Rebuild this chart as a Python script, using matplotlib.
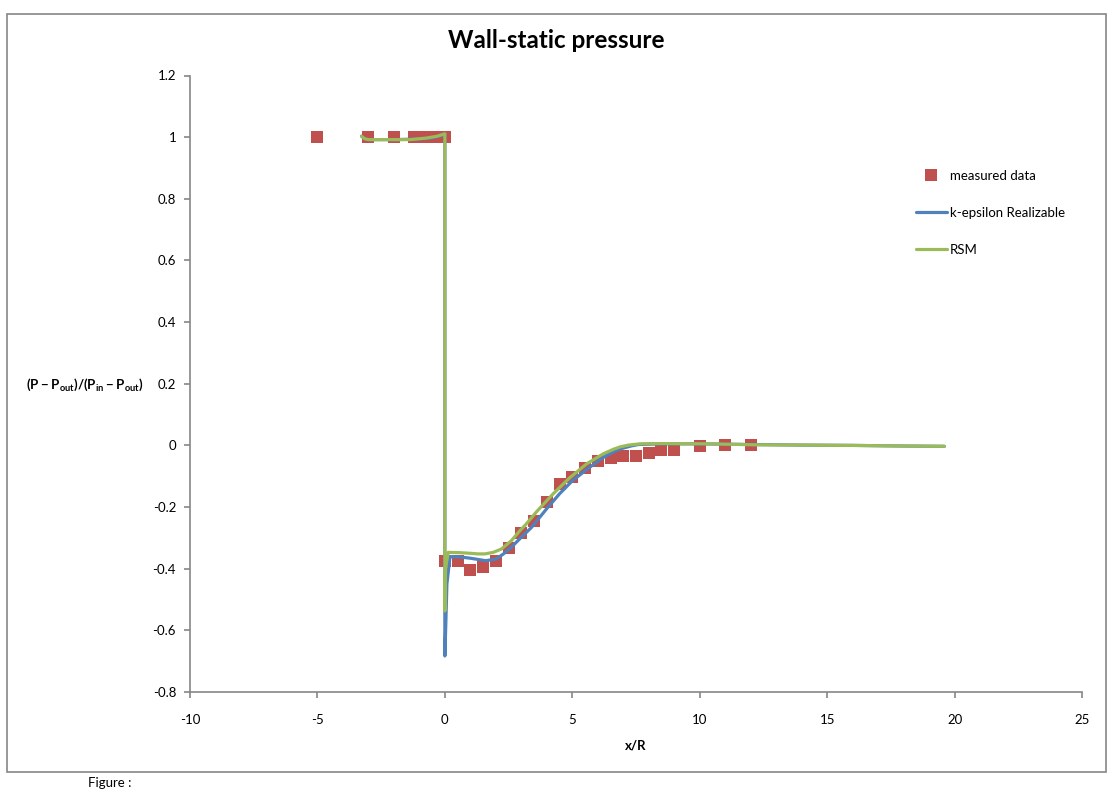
import matplotlib
matplotlib.use("Agg")
import matplotlib.pyplot as plt
from matplotlib.patches import Rectangle
from matplotlib.ticker import FuncFormatter

# measured wall-static pressure
meas_x = [-5, -3, -2, -1.2, -0.9, -0.6, -0.3, 0, 0, 0.5, 1, 1.5, 2, 2.5, 3, 3.5, 4,
          4.5, 5, 5.5, 6, 6.5, 7, 7.5, 8, 8.5, 9, 10, 11, 12]
meas_y = [1, 1, 1, 1, 1, 1, 1, 1, -0.374, -0.374, -0.403, -0.393, -0.374, -0.334,
          -0.284, -0.244, -0.182, -0.125, -0.103, -0.073, -0.052, -0.041, -0.033,
          -0.033, -0.024, -0.014, -0.014, -0.002, 0.0, 0.0]

# k-epsilon Realizable
ke_x = [-3.27, -3.15, -3.0, -2.0, -1.0, -0.5, -0.2, 0.0, 0.0, 0.03, 0.08, 0.2, 0.6,
        1.0, 1.6, 2.0, 2.3, 2.6, 3.0, 3.4, 4.0, 4.5, 5.0, 5.6, 6.2, 6.6, 6.9, 7.3,
        7.6, 8.5, 10, 12, 14, 16, 18, 19.6]
ke_y = [1.003, 0.995, 0.992, 0.992, 0.994, 0.998, 1.004, 1.01, -0.683, -0.6, -0.45,
        -0.361, -0.362, -0.366, -0.374, -0.369, -0.352, -0.331, -0.298, -0.266,
        -0.205, -0.157, -0.115, -0.076, -0.040, -0.022, -0.011, -0.002, 0.003,
        0.005, 0.005, 0.003, 0.001, 0.0, -0.002, -0.003]

# RSM
rsm_x = [-3.27, -3.15, -3.0, -2.0, -1.37, -0.72, -0.3, 0.0, 0.0, 0.03, 0.13, 0.6,
         1.0, 1.3, 1.57, 1.9, 2.22, 2.6, 2.94, 3.14, 3.6, 4.25, 4.9, 5.56, 6.2,
         6.6, 6.87, 7.2, 7.65, 8.5, 10.4, 12.1, 14, 16, 18, 19.6]
rsm_y = [1.003, 0.995, 0.992, 0.992, 0.992, 0.997, 1.003, 1.011, -0.537, -0.4,
         -0.347, -0.348, -0.35, -0.352, -0.352, -0.347, -0.336, -0.31, -0.277,
         -0.26, -0.215, -0.157, -0.105, -0.06, -0.028, -0.013, -0.005, 0.001,
         0.005, 0.006, 0.005, 0.002, 0.001, 0.0, -0.002, -0.003]

x_ticks = [-10, -5, 0, 5, 10, 15, 20, 25]
y_ticks = [-0.8, -0.6, -0.4, -0.2, 0, 0.2, 0.4, 0.6, 0.8, 1, 1.2]

plt.rcParams['font.family'] = ['Lato', 'DejaVu Sans']
plt.rcParams['axes.unicode_minus'] = False
plt.rcParams['mathtext.fontset'] = 'custom'
plt.rcParams['mathtext.rm'] = 'Lato'
plt.rcParams['mathtext.bf'] = 'Lato:bold'

W, H = 1120, 806
fig = plt.figure(figsize=(W / 100, H / 100), dpi=100)
ax = fig.add_axes([190 / W, 1 - 692 / H, (1082 - 190) / W, (692 - 75.5) / H])

grey = '#868686'
fig.add_artist(Rectangle((6.5 / W, 1 - 772 / H), (1106 - 6.5) / W, (772 - 14) / H,
                         transform=fig.transFigure, fill=False, ec=grey, lw=1.2))

ax.plot(meas_x, meas_y, 's', color='#C0504D', ms=8, mew=0, label='measured data',
        zorder=2)
ax.plot(ke_x, ke_y, '-', color='#4F81BD', lw=2.3, label='k-epsilon Realizable',
        solid_joinstyle='round', solid_capstyle='round', zorder=3)
ax.plot(rsm_x, rsm_y, '-', color='#9BBB59', lw=2.3, label='RSM',
        solid_joinstyle='round', solid_capstyle='round', zorder=4)

ax.set_xlim(-10, 25)
ax.set_ylim(-0.8, 1.2)
ax.set_xticks(x_ticks)
ax.set_yticks(y_ticks)
ax.yaxis.set_major_formatter(FuncFormatter(lambda v, p: '%g' % round(v, 2)))
for s in ['top', 'right']:
    ax.spines[s].set_visible(False)
for s in ['left', 'bottom']:
    ax.spines[s].set_color(grey)
    ax.spines[s].set_linewidth(1.2)
ax.tick_params(axis='both', direction='out', length=4, width=1.2, color=grey,
               labelsize=9.5)
ax.tick_params(axis='x', pad=12)
ax.tick_params(axis='y', pad=6)

fig.text(556 / W, 1 - 41 / H, 'Wall-static pressure', ha='center', va='center',
         fontsize=17.5, fontweight='bold')
fig.text(26 / W, 1 - 385 / H, r'$\mathbf{(P - P_{out})/(P_{in} - P_{out})}$',
         ha='left', va='center', fontsize=9.5)
fig.text(636 / W, 1 - 745 / H, 'x/R', ha='center', va='center', fontsize=9.5,
         fontweight='bold')
fig.text(88 / W, 1 - 783 / H, 'Figure :', ha='left', va='center', fontsize=9.5)

ax.legend(loc='upper left', bbox_to_anchor=(909 / W, 1 - 163 / H),
          bbox_transform=fig.transFigure, frameon=False, fontsize=9.5,
          handlelength=2.4, handletextpad=0.2, labelspacing=1.9, borderpad=0)

fig.savefig('out.png', dpi=100)
